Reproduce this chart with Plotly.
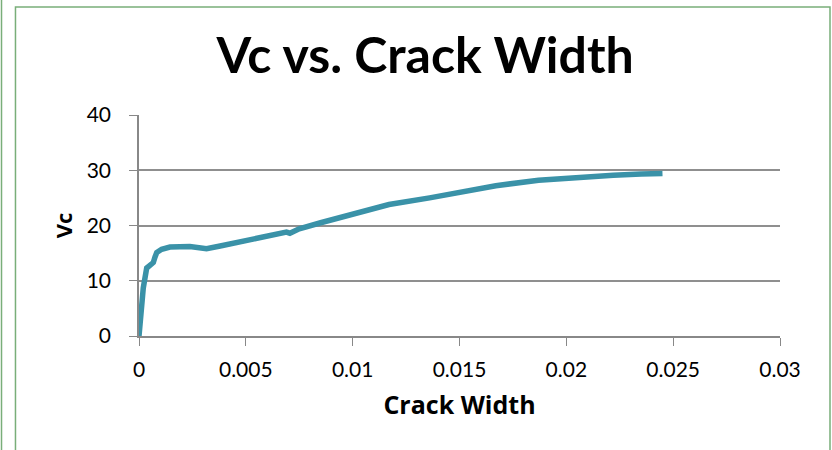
import plotly.graph_objects as go

# crack width vs Vc
crack_width = [0, 0.0001, 0.0002, 0.00036, 0.00055, 0.00067, 0.00075, 0.00083, 0.00106, 0.00145,
               0.00238, 0.00285, 0.00316, 0.0038, 0.0049, 0.006, 0.0066, 0.0069, 0.00706,
               0.0075, 0.0085, 0.0095, 0.0105, 0.0117, 0.0136, 0.0152, 0.0167, 0.0187,
               0.0206, 0.0222, 0.0235, 0.0245]
vc = [0, 4.5, 8.7, 12.3, 13.0, 13.3, 14.3, 15.1, 15.7, 16.1,
      16.2, 16.0, 15.8, 16.3, 17.2, 18.1, 18.7, 18.8, 18.6,
      19.4, 20.5, 21.5, 22.6, 23.8, 25.0, 26.2, 27.2, 28.2,
      28.8, 29.1, 29.3, 29.4]

x_ticks = [0, 0.005, 0.01, 0.015, 0.02, 0.025, 0.03]
x_tick_labels = ["0", "0.005", "0.01", "0.015", "0.02", "0.025", "0.03"]
y_ticks = [0, 10, 20, 30, 40]

font = "Lato, 'Open Sans', sans-serif"
bold_font = "'Open Sans', sans-serif"

fig = go.Figure(go.Scatter(x=crack_width, y=vc, mode="lines",
                           line=dict(color="#3A92A8", width=5.5)))

fig.update_layout(
    width=832, height=450,
    margin=dict(l=139, r=52, t=115, b=114),
    paper_bgcolor="white", plot_bgcolor="white",
    showlegend=False,
    font=dict(family=font, color="black", size=21),
    title=dict(text="<b>Vc vs. Crack Width</b>", x=0.511, xanchor="center",
               y=0.876, yanchor="middle", font=dict(size=50, family=font)),
)
fig.update_xaxes(range=[0, 0.03], tickvals=x_ticks, ticktext=x_tick_labels,
                 showgrid=False, showline=True, linecolor="#888888", linewidth=1.5,
                 ticks="outside", ticklen=8, tickcolor="#888888", zeroline=False,
                 ticklabelstandoff=6,
                 title=dict(text="<b>Crack Width</b>", font=dict(size=25, family=bold_font),
                            standoff=17))
fig.update_yaxes(range=[0, 40], tickvals=y_ticks,
                 showgrid=True, gridcolor="#8f8f8f", gridwidth=1.5,
                 showline=True, linecolor="#888888", linewidth=1.5,
                 ticks="outside", ticklen=8, tickcolor="#888888", zeroline=False,
                 ticklabelstandoff=14,
                 title=dict(text="<b>Vc</b>", font=dict(size=22, family=bold_font), standoff=8))

# green chart border like the spreadsheet frame
fig.add_shape(type="rect", xref="paper", yref="paper",
              x0=-0.1927, x1=1.078, y0=-0.6, y1=1.489,
              line=dict(color="#79AE79", width=1.5), layer="below")
fig.add_shape(type="line", xref="paper", yref="paper",
              x0=-0.2145, x1=-0.2145, y0=-0.6, y1=1.6,
              line=dict(color="#79AE79", width=1.5), layer="below")

# page body margin would push the 832x450 figure off by 8px
fig.write_html("out.html", config={"displayModeBar": False},
               post_script="document.body.style.margin='0';")
